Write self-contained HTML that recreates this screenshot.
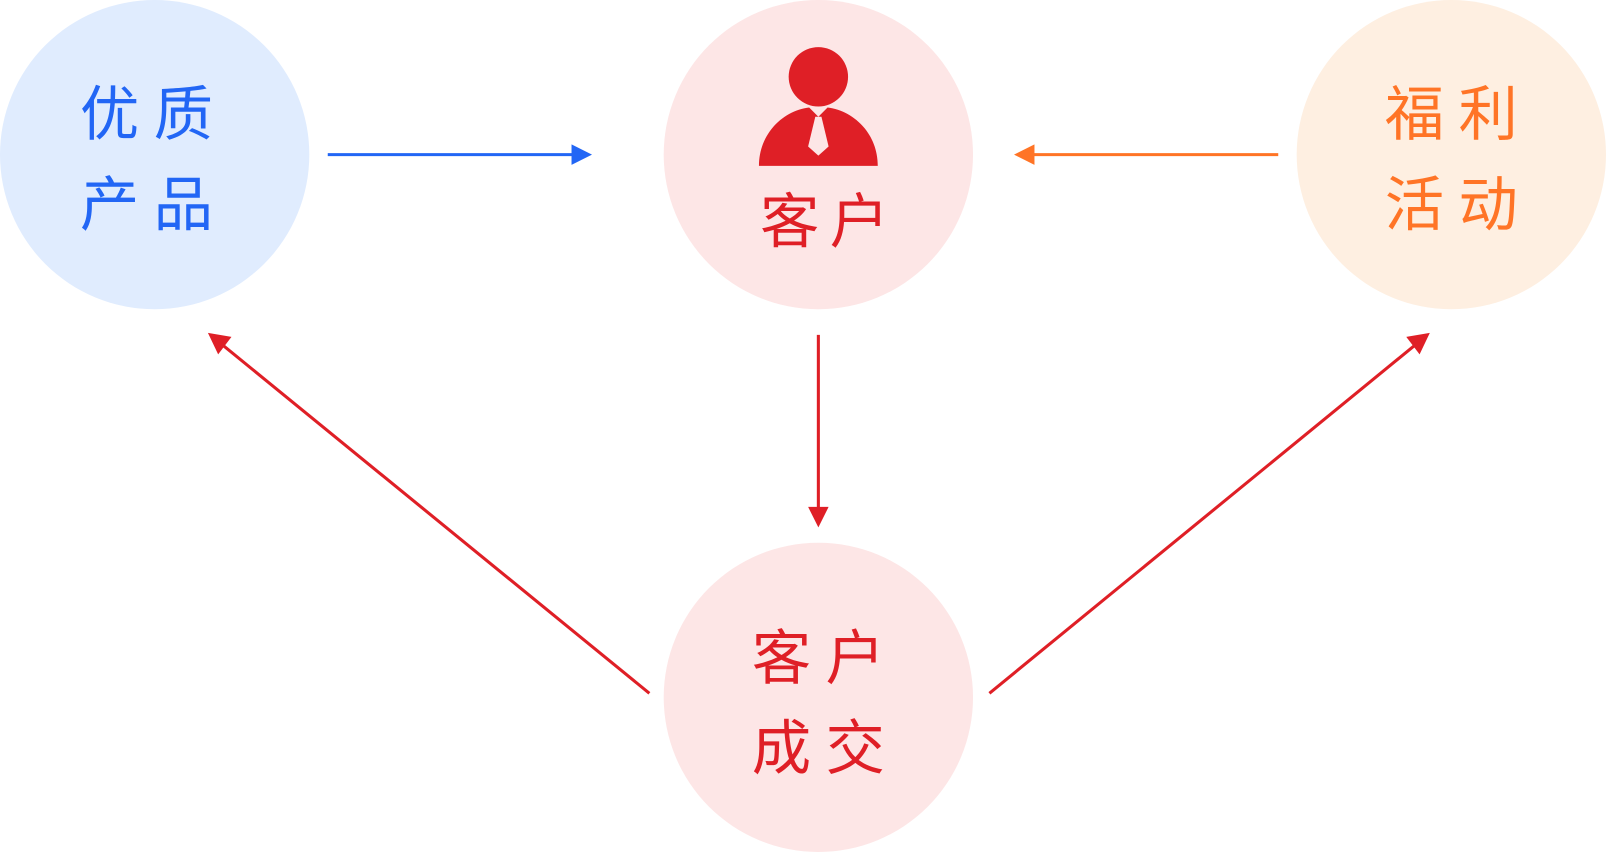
<!DOCTYPE html>
<html><head><meta charset="utf-8"><style>
html,body{margin:0;padding:0;background:#fff;width:1606px;height:852px;overflow:hidden}
svg{display:block}
text{font-family:"Liberation Sans","Noto Sans CJK SC",sans-serif;font-size:58px;font-weight:400}
</style></head><body>
<svg width="1606" height="852" viewBox="0 0 1568 832" preserveAspectRatio="none">
<circle cx="151" cy="151" r="151" fill="#e0ecfe"/>
<circle cx="799" cy="151" r="151" fill="#fde6e6"/>
<circle cx="1417" cy="151" r="151" fill="#feefe1"/>
<circle cx="799" cy="681" r="151" fill="#fde6e6"/>

<g fill="#2266f5">
<text x="78" y="132">优</text><text x="150" y="132">质</text>
<text x="78" y="220">产</text><text x="150" y="220">品</text>
</g>
<g fill="#ff7426">
<text x="1352" y="132">福</text><text x="1424" y="132">利</text>
<text x="1352" y="220">活</text><text x="1424" y="220">动</text>
</g>
<g fill="#df1f26">
<text x="742" y="237">客</text><text x="810" y="237">户</text>
<text x="734" y="663">客</text><text x="806" y="663">户</text>
<text x="734" y="751">成</text><text x="806" y="751">交</text>
</g>

<!-- person icon -->
<circle cx="799" cy="75" r="29" fill="#df1f26"/>
<path d="M741,162 C741,130 765,108 790,105 L799,114 L808,105 C833,108 857,130 857,162 Z" fill="#df1f26"/>
<path d="M796,114 L802,114 L809,143 L799,152 L789,143 Z" fill="#fde6e6"/>

<!-- arrows -->
<line x1="320" y1="151" x2="562" y2="151" stroke="#2266f5" stroke-width="3"/>
<polygon points="578,151 558,141 558,161" fill="#2266f5"/>
<line x1="1248" y1="151" x2="1006" y2="151" stroke="#ff7426" stroke-width="3"/>
<polygon points="990,151 1010,141 1010,161" fill="#ff7426"/>
<line x1="799" y1="327" x2="799" y2="500" stroke="#df1f26" stroke-width="3"/>
<polygon points="799,515 789,495 809,495" fill="#df1f26"/>
<line x1="634" y1="677" x2="215" y2="335" stroke="#df1f26" stroke-width="3"/>
<polygon points="203,325 226,329 213,346" fill="#df1f26"/>
<line x1="966" y1="677" x2="1384" y2="335" stroke="#df1f26" stroke-width="3"/>
<polygon points="1396,325 1373,329 1386,346" fill="#df1f26"/>
</svg>
</body></html>
